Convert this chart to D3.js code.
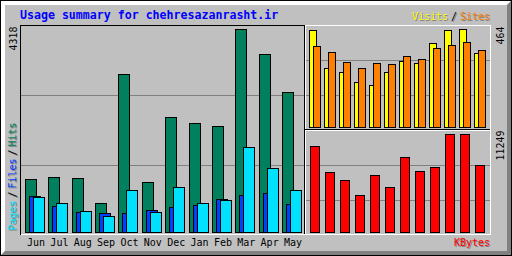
<!DOCTYPE html>
<html><head><meta charset="utf-8">
<script src="https://cdn.jsdelivr.net/npm/d3@7"></script>
<style>html,body{margin:0;padding:0;background:#c0c0c0;overflow:hidden}</style>
</head><body>
<script>
// ---- data ----
const months = ["Jun","Jul","Aug","Sep","Oct","Nov","Dec","Jan","Feb","Mar","Apr","May"];
const hits   = [1121,1170,1142,617,3361,1064,2440,2312,2248,4318,3786,2978];
const files  = [766,553,425,404,404,468,532,574,702,787,830,596];
const pages  = [745,617,447,340,893,425,957,617,681,1808,1361,893];
const visits = [458,278,259,212,197,259,311,302,396,458,464,349];
const sites  = [382,354,306,278,302,297,335,321,373,387,401,363];
const kbytes = [9837,6853,5935,4213,6509,5131,8575,6968,7427,11200,11249,7656];
const title = "Usage summary for chehresazanrasht.ir";
const lblHits = "Hits", lblFiles = "Files", lblPages = "Pages";
const lblVisits = "Visits", lblSites = "Sites", lblKB = "KBytes";

// ---- drawing ----
const W = 512, H = 256;
const C = {bg:"#c0c0c0", dk:"#808080", white:"#ffffff", black:"#000000",
  hit:"#00805c", file:"#0040ff", page:"#00e0ff", visit:"#ffff00",
  site:"#ff8000", kb:"#ff0000", title:"#0000ff"};
const MONO = "'DejaVu Sans Mono', 'Liberation Mono', monospace";

const svg = d3.select("body").append("svg")
  .attr("width", W).attr("height", H).style("display","block");

svg.append("rect").attr("width",W).attr("height",H).attr("fill",C.bg);
svg.append("path").attr("d","M0,0H512L507,5H5V251L0,256Z").attr("fill",C.white);
svg.append("path").attr("d","M512,0V256H0L5,251H507V5Z").attr("fill",C.dk);
svg.append("rect").attr("x",0.5).attr("y",0.5).attr("width",511).attr("height",255)
  .attr("fill","none").attr("stroke",C.black);

function hline(y,x1,x2,c){ svg.append("rect").attr("x",x1).attr("y",y).attr("width",x2-x1+1).attr("height",1).attr("fill",c); }
function vline(x,y1,y2,c){ svg.append("rect").attr("x",x).attr("y",y1).attr("width",1).attr("height",y2-y1+1).attr("fill",c); }

// frame
hline(234,20,490,C.white); vline(490,25,234,C.white); hline(25,305,490,C.white);
hline(25,20,304,C.black); vline(20,25,234,C.black);
vline(304,25,233,C.black); vline(305,25,233,C.white);
hline(129,305,489,C.black); hline(130,306,489,C.white);

// index lines
[95,165].forEach(y=>hline(y,21,303,C.dk));
[60,95,165,200].forEach(y=>hline(y,306,489,C.dk));

// scales
const maxL = d3.max([...hits,...files,...pages]);
const maxV = d3.max([...visits,...sites]);
const maxK = d3.max(kbytes);
const xL = d3.scaleBand().domain(months).range([25, 25 + 12*23.36]);
const yL = d3.scaleLinear().domain([0, maxL]).range([232, 29]);
const xR = d3.scaleBand().domain(months).range([309, 309 + 12*15]);
const yV = d3.scaleLinear().domain([0, maxV]).range([127, 29]);
const yK = d3.scaleLinear().domain([0, maxK]).range([232, 134]);

function bars(data, xs, off, w, ys, base, color){
  svg.append("g").selectAll("rect").data(data).join("rect")
    .attr("x",(d,i)=>Math.round(xs(months[i]))+off+0.5)
    .attr("y",d=>Math.round(ys(d))+0.5)
    .attr("width",w)
    .attr("height",d=>base-Math.round(ys(d)))
    .attr("fill",color).attr("stroke",C.black).attr("stroke-width",1)
    .attr("shape-rendering","crispEdges");
}
bars(hits,  xL, 0, 11, yL, 232, C.hit);
bars(files, xL, 4, 11, yL, 232, C.file);
bars(pages, xL, 8, 11, yL, 232, C.page);
bars(visits, xR, 0, 7, yV, 127, C.visit);
bars(sites,  xR, 4, 7, yV, 127, C.site);
bars(kbytes, xR, 1, 9, yK, 232, C.kb);

// text helpers
function txt(x,y,s,c,size,weight){
  return svg.append("text").attr("x",x).attr("y",y).text(s)
    .attr("fill",c).attr("font-family",MONO).attr("font-size",size||10)
    .attr("font-weight",weight||"normal");
}
function up(x,y,s,c){
  return svg.append("text").attr("transform",`translate(${x},${y}) rotate(-90)`).text(s)
    .attr("fill",c).attr("font-family",MONO).attr("font-size",10);
}

// title
txt(20,19,title,C.title,11.6,"bold");

// month labels
svg.append("g").selectAll("text").data(months).join("text")
  .attr("x",d=>xL(d)+2).attr("y",246).text(d=>d)
  .attr("fill",C.black).attr("font-family",MONO).attr("font-size",10);

// max values
const tL = String(maxL), tV = String(maxV), tK = String(maxK);
up(17, 26 + tL.length*6 + 0.5, tL, C.black);
up(504, 26 + tV.length*6 + 0.5, tV, C.black);
up(504, 130 + tK.length*6 + 0.5, tK, C.black);

// KBytes legend
{ const i = lblKB.length*6;
  txt(491-i,247,lblKB,C.dk); txt(490-i,246,lblKB,C.kb); }

// Visits / Sites legend
{ const i = lblVisits.length*6, j = lblSites.length*6;
  txt(491-i-j-12,21,lblVisits,C.dk); txt(490-i-j-12,20,lblVisits,C.visit);
  txt(491-j-9,21,"/",C.dk); txt(490-j-9,20,"/",C.black);
  txt(491-j,21,lblSites,C.dk); txt(490-j,20,lblSites,C.site); }

// Pages / Files / Hits legend (vertical)
{ const i = lblPages.length*6, j = lblFiles.length*6, b = 230.5;
  up(17,b+1,lblPages,C.dk); up(16,b,lblPages,C.page);
  up(17,b+1-i-3,"/",C.dk); up(16,b-i-3,"/",C.black);
  up(17,b+1-i-12,lblFiles,C.dk); up(16,b-i-12,lblFiles,C.file);
  up(17,b+1-i-j-15,"/",C.dk); up(16,b-i-j-15,"/",C.black);
  up(17,b+1-i-j-24,lblHits,C.dk); up(16,b-i-j-24,lblHits,C.hit); }
</script>
</body></html>
